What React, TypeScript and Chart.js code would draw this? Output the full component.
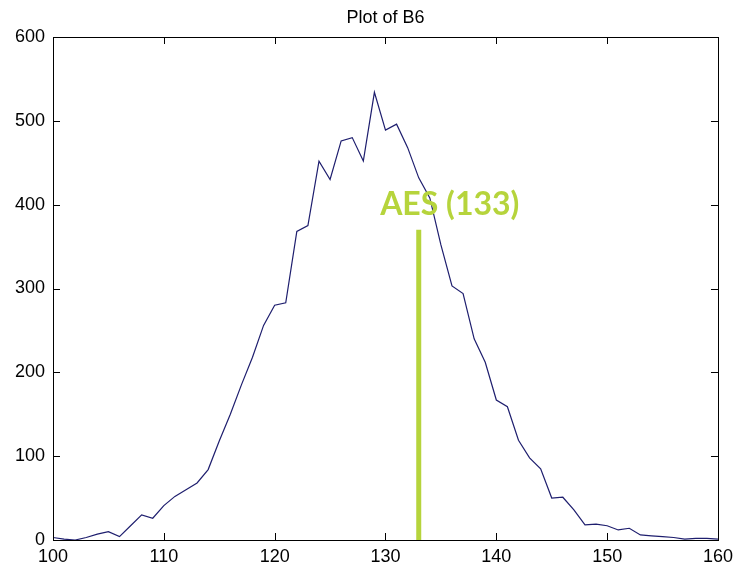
import React, { useEffect, useRef } from "react";
import { Chart, registerables } from "chart.js";

Chart.register(...registerables);

const xValues: number[] = [
  100, 101, 102, 103, 104, 105, 106, 107, 108, 109,
  110, 111, 112, 113, 114, 115, 116, 117, 118, 119,
  120, 121, 122, 123, 124, 125, 126, 127, 128, 129,
  130, 131, 132, 133, 134, 135, 136, 137, 138, 139,
  140, 141, 142, 143, 144, 145, 146, 147, 148, 149,
  150, 151, 152, 153, 154, 155, 156, 157, 158, 159, 160,
];
const counts: number[] = [
  3, 1, 0, 3, 7, 10, 4, 17, 30, 26,
  41, 52, 60, 68, 84, 118, 150, 185, 218, 256,
  280, 283, 368, 375, 452, 430, 476, 480, 452, 534,
  489, 496, 468, 432, 408, 352, 303, 294, 240, 212,
  167, 159, 119, 98, 85, 50, 51, 36, 18, 19,
  17, 12, 14, 6, 5, 4, 3, 1, 2, 2, 1,
];
const aesX = 133;
const aesTop = 370;
const aesLabel = "AES (133)";
const chartTitle = "Plot of B6";
const xTicks: number[] = [100, 110, 120, 130, 140, 150, 160];
const yTicks: number[] = [0, 100, 200, 300, 400, 500, 600];

const AES_COLOR = "#b6d43c";
const LINE_COLOR = "#1e1e6e";
const FONT = "'Liberation Sans', Arial, sans-serif";

const framePlugin = {
  id: "matlabFrame",
  afterDatasetsDraw(chart: any) {
    const { ctx, chartArea } = chart;
    const xs = chart.scales.x;
    const ys = chart.scales.y;
    const { left, right, top, bottom } = chartArea;
    ctx.save();
    ctx.strokeStyle = "#000";
    ctx.lineWidth = 1;
    ctx.strokeRect(Math.round(left) + 0.5, Math.round(top) + 0.5, Math.round(right - left), Math.round(bottom - top));
    const tl = 7;
    ctx.beginPath();
    xTicks.forEach((v) => {
      const px = Math.round(xs.getPixelForValue(v)) + 0.5;
      ctx.moveTo(px, bottom);
      ctx.lineTo(px, bottom - tl);
      ctx.moveTo(px, top);
      ctx.lineTo(px, top + tl);
    });
    yTicks.forEach((v) => {
      const py = Math.round(ys.getPixelForValue(v)) + 0.5;
      ctx.moveTo(left, py);
      ctx.lineTo(left + tl, py);
      ctx.moveTo(right, py);
      ctx.lineTo(right - tl, py);
    });
    ctx.stroke();

    // title
    ctx.fillStyle = "#000";
    ctx.font = `18px ${FONT}`;
    ctx.textAlign = "center";
    ctx.textBaseline = "alphabetic";
    ctx.fillText(chartTitle, (left + right) / 2, 23);

    // AES label
    const ax = xs.getPixelForValue(aesX);
    const ay = ys.getPixelForValue(aesTop);
    ctx.fillStyle = AES_COLOR;
    ctx.font = `bold 32px Lato, 'Open Sans', sans-serif`;
    ctx.textAlign = "center";
    ctx.fillText(aesLabel, ax + 31, ay - 15);
    ctx.restore();
  },
};

export default function App() {
  const ref = useRef<HTMLCanvasElement | null>(null);
  useEffect(() => {
    document.body.style.margin = "0";
    const canvas = ref.current!;
    const chart = new Chart(canvas, {
      type: "line",
      data: {
        datasets: [
          {
            data: xValues.map((x, i) => ({ x, y: counts[i] })),
            borderColor: LINE_COLOR,
            borderWidth: 1.2,
            pointRadius: 0,
            tension: 0,
            fill: false,
          },
          {
            data: [
              { x: aesX, y: 0 },
              { x: aesX, y: aesTop },
            ],
            borderColor: AES_COLOR,
            borderWidth: 5,
            pointRadius: 0,
            fill: false,
          },
        ],
      },
      options: {
        responsive: false,
        animation: false,
        devicePixelRatio: 1,
        layout: { padding: { top: 37, right: 18, left: 0, bottom: 0 } },
        plugins: {
          legend: { display: false },
          tooltip: { enabled: false },
          title: { display: false },
        },
        scales: {
          x: {
            type: "linear",
            min: 100,
            max: 160,
            grid: { display: false, drawTicks: false },
            border: { display: false },
            ticks: {
              stepSize: 10,
              padding: 6,
              color: "#000",
              font: { family: FONT, size: 18 },
              maxRotation: 0,
            },
            afterFit: (s: any) => {
              s.height = 31;
            },
          },
          y: {
            min: 0,
            max: 600,
            grid: { display: false, drawTicks: false },
            border: { display: false },
            ticks: {
              stepSize: 100,
              padding: 8,
              color: "#000",
              font: { family: FONT, size: 18 },
            },
            afterFit: (s: any) => {
              s.width = 53;
            },
          },
        },
      },
      plugins: [framePlugin],
    });
    return () => chart.destroy();
  }, []);
  return <canvas ref={ref} width={739} height={571} style={{ display: "block" }} />;
}
